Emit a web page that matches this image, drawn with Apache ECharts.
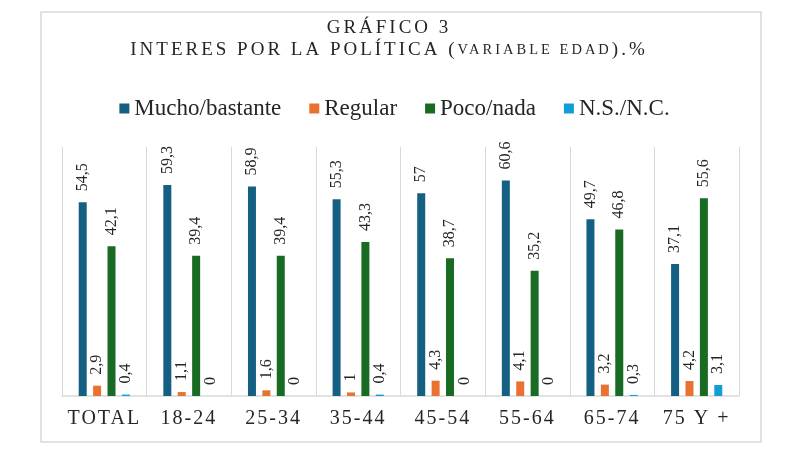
<!DOCTYPE html>
<html>
<head>
<meta charset="utf-8">
<script src="https://cdn.jsdelivr.net/npm/echarts@6/dist/echarts.min.js"></script>
<style>
  html, body { margin: 0; padding: 0; background: #fff; }
  #chart { width: 789px; height: 461px; }
</style>
</head>
<body>
<div id="chart"></div>
<script>
// datos del gráfico
const categories = ['TOTAL', '18-24', '25-34', '35-44', '45-54', '55-64', '65-74', '75 Y +'];
const seriesNames = ['Mucho/bastante', 'Regular', 'Poco/nada', 'N.S./N.C.'];
const muchoBastante = [54.5, 59.3, 58.9, 55.3, 57, 60.6, 49.7, 37.1];
const regular = [2.9, 1.1, 1.6, 1, 4.3, 4.1, 3.2, 4.2];
const pocoNada = [42.1, 39.4, 39.4, 43.3, 38.7, 35.2, 46.8, 55.6];
const nsnc = [0.4, 0, 0, 0.4, 0, 0, 0.3, 3.1];

const colors = ['#156082', '#E97132', '#196B24', '#0F9ED5'];
const textColor = '#262626';

// fuentes: la familia sirve también para marcar el espaciado entre letras
const FONT = '"Liberation Serif", serif';
const FONT_TITLE = '"Liberation Serif", "Times New Roman", serif';
const FONT_AXIS = '"Liberation Serif", Times, serif';

// espaciado de letras (canvas letterSpacing) según la familia
(function patchLetterSpacing() {
    const proto = CanvasRenderingContext2D.prototype;
    if (!('letterSpacing' in proto)) return;
    ['fillText', 'strokeText', 'measureText'].forEach(name => {
        const orig = proto[name];
        proto[name] = function () {
            const f = this.font || '';
            let ls = '0px';
            if (f.indexOf('Times New Roman') >= 0) ls = '3px';
            else if (f.indexOf('Times') >= 0) ls = '2px';
            this.letterSpacing = ls;
            const r = orig.apply(this, arguments);
            this.letterSpacing = '0px';
            return r;
        };
    });
})();

function fmt(v) {
    return String(v).replace('.', ',');
}

function makeSeries(name, data, color) {
    return {
        name: name,
        type: 'bar',
        data: data,
        barWidth: 8,
        barGap: '80%',
        itemStyle: { color: color },
        label: {
            show: true,
            position: 'top',
            rotate: 90,
            align: 'left',
            verticalAlign: 'middle',
            distance: 11,
            fontFamily: FONT,
            fontSize: 16,
            color: textColor,
            formatter: p => fmt(p.value)
        }
    };
}

const chart = echarts.init(document.getElementById('chart'), null, { renderer: 'canvas' });

const option = {
    backgroundColor: '#fff',
    animation: false,
    graphic: [
        {
            type: 'rect',
            shape: { x: 41, y: 12, width: 720, height: 430 },
            style: { fill: 'none', stroke: '#d9d9d9', lineWidth: 1.5 },
            silent: true
        },
        {
            type: 'text',
            x: 389,
            y: 28,
            style: {
                text: 'GRÁFICO 3',
                fontFamily: FONT_TITLE,
                fontSize: 19,
                fill: textColor,
                align: 'center',
                verticalAlign: 'middle'
            }
        },
        {
            type: 'text',
            x: 389,
            y: 50,
            style: {
                text: '{a|INTERES POR LA POLÍTICA (}{b|VARIABLE EDAD}{a|).%}',
                align: 'center',
                verticalAlign: 'middle',
                rich: {
                    a: { fontFamily: FONT_TITLE, fontSize: 19, fill: textColor },
                    b: { fontFamily: FONT_TITLE, fontSize: 14.5, fill: textColor }
                }
            }
        }
    ],
    legend: {
        data: seriesNames,
        top: 92,
        left: 'center',
        icon: 'rect',
        itemWidth: 10,
        itemHeight: 10,
        itemGap: 28,
        textStyle: { fontFamily: FONT, fontSize: 23, color: textColor }
    },
    grid: { left: 62, right: 50, top: 147, bottom: 65 },
    xAxis: {
        type: 'category',
        data: categories,
        axisLine: { lineStyle: { color: '#d9d9d9', width: 1.5 } },
        axisTick: { show: false },
        splitLine: { show: true, lineStyle: { color: '#d9d9d9', width: 1 } },
        axisLabel: {
            interval: 0,
            fontFamily: FONT_AXIS,
            fontSize: 20,
            color: textColor,
            margin: 12
        }
    },
    yAxis: {
        type: 'value',
        min: 0,
        max: 70,
        show: false,
        splitLine: { show: false }
    },
    series: [
        makeSeries(seriesNames[0], muchoBastante, colors[0]),
        makeSeries(seriesNames[1], regular, colors[1]),
        makeSeries(seriesNames[2], pocoNada, colors[2]),
        makeSeries(seriesNames[3], nsnc, colors[3])
    ]
};

chart.setOption(option);
</script>
</body>
</html>
